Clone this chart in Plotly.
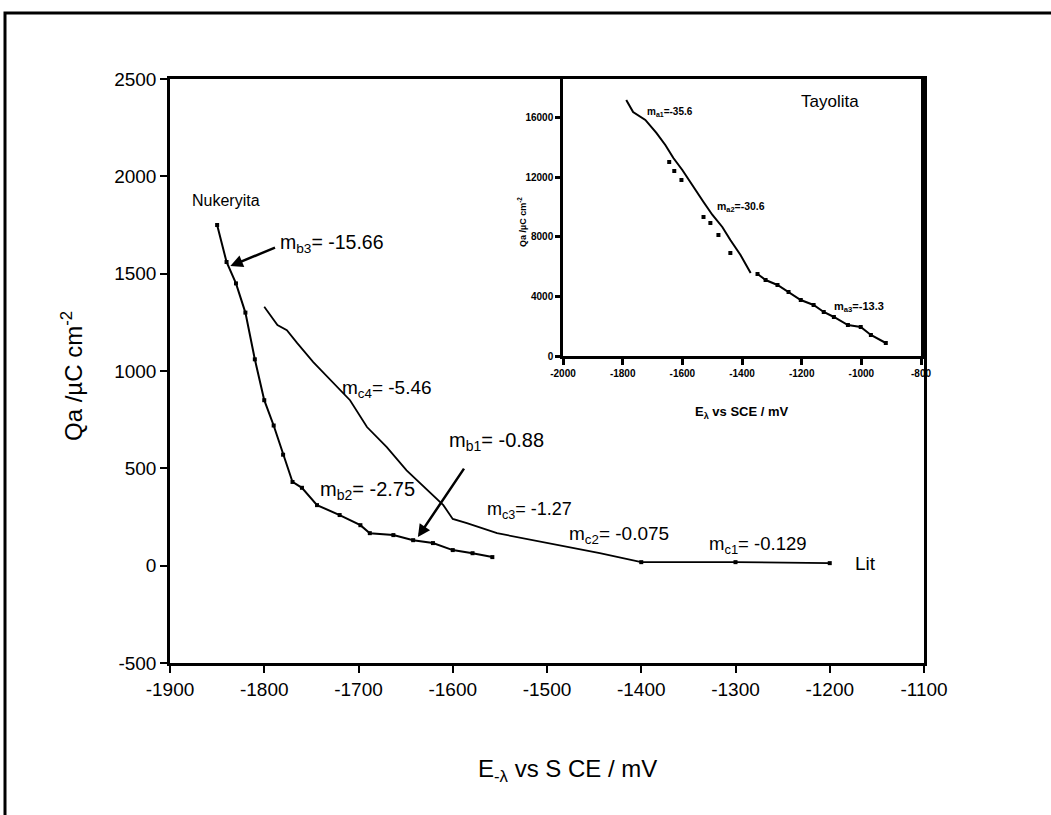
import plotly.graph_objects as go

# ---- main chart: charge vs potential ----
nuk_x = [-1850, -1840, -1830, -1820, -1810, -1800, -1790, -1780, -1770, -1760,
         -1744, -1720, -1698, -1688, -1663, -1642, -1621, -1600, -1579, -1558]
nuk_y = [1750, 1560, 1450, 1300, 1060, 850, 720, 570, 430, 400,
         311, 260, 208, 167, 157, 131, 116, 80, 64, 44]

lit_x = [-1800, -1786, -1776, -1765, -1748, -1733, -1723, -1709, -1691, -1670,
         -1649, -1624, -1610, -1600, -1585, -1553, -1532, -1479, -1444, -1400,
         -1300, -1200]
lit_y = [1330, 1236, 1210, 1143, 1046, 969, 917, 850, 712, 609,
         490, 372, 311, 240, 218, 167, 147, 96, 64, 18,
         18, 13]

main_xticks = [-1900, -1800, -1700, -1600, -1500, -1400, -1300, -1200, -1100]
main_yticks = [-500, 0, 500, 1000, 1500, 2000, 2500]

# ---- inset: Tayolita ----
tay_x1 = [-1788, -1765, -1724, -1687, -1657, -1630, -1600, -1563, -1529, -1499,
          -1466, -1439, -1405, -1371]
tay_y1 = [17210, 16400, 15866, 14992, 14185, 13311, 12504, 11361, 10353, 9479,
          8672, 7798, 6790, 5580]
tay_x2 = [-1348, -1321, -1281, -1244, -1203, -1160, -1126, -1092, -1045, -1002,
          -968, -918]
tay_y2 = [5513, 5109, 4773, 4303, 3765, 3429, 2958, 2622, 2084, 1950,
          1412, 874]
tay_px = [-1644, -1627, -1603, -1529, -1506, -1479, -1439]
tay_py = [13042, 12437, 11832, 9345, 8941, 8134, 6924]

inset_xticks = [-2000, -1800, -1600, -1400, -1200, -1000, -800]
inset_yticks = [0, 4000, 8000, 12000, 16000]

W, H = 1051, 815
FONT = "Liberation Sans, Arial, sans-serif"


def px(x):
    return x / W


def py(y):
    return 1 - y / H


fig = go.Figure()

fig.add_trace(go.Scatter(x=nuk_x, y=nuk_y, mode="lines+markers",
                         line=dict(color="black", width=2),
                         marker=dict(symbol="square", size=4, color="black"),
                         showlegend=False))
fig.add_trace(go.Scatter(x=lit_x, y=lit_y, mode="lines",
                         line=dict(color="black", width=1.8),
                         showlegend=False))
fig.add_trace(go.Scatter(x=lit_x[-3:], y=lit_y[-3:], mode="markers",
                         marker=dict(symbol="square", size=4, color="black"),
                         showlegend=False))

fig.add_trace(go.Scatter(x=tay_x1, y=tay_y1, mode="lines",
                         line=dict(color="black", width=2),
                         xaxis="x2", yaxis="y2", showlegend=False))
fig.add_trace(go.Scatter(x=tay_x2, y=tay_y2, mode="lines+markers",
                         line=dict(color="black", width=2),
                         marker=dict(symbol="square", size=4, color="black"),
                         xaxis="x2", yaxis="y2", showlegend=False))
fig.add_trace(go.Scatter(x=tay_px, y=tay_py, mode="markers",
                         marker=dict(symbol="square", size=4, color="black"),
                         xaxis="x2", yaxis="y2", showlegend=False))

axis_common = dict(showgrid=False, zeroline=False, showline=True, mirror=True,
                   linecolor="black", ticks="outside", tickcolor="black",
                   automargin=False)

fig.update_layout(
    width=W, height=H,
    margin=dict(l=0, r=0, t=0, b=0),
    paper_bgcolor="white", plot_bgcolor="rgba(0,0,0,0)",
    font=dict(family=FONT, color="black"),
    xaxis=dict(domain=[px(170), px(924)], range=[-1900, -1100],
               tickvals=main_xticks, ticktext=[str(v) for v in main_xticks],
               ticklen=7, tickwidth=2, linewidth=2.5,
               tickfont=dict(size=19), anchor="y", **axis_common),
    yaxis=dict(domain=[py(663), py(79)], range=[-500, 2500],
               tickvals=main_yticks, ticktext=[str(v) for v in main_yticks],
               ticklen=7, tickwidth=2, linewidth=2.5,
               tickfont=dict(size=19), anchor="x", **axis_common),
    xaxis2=dict(domain=[px(563), px(921)], range=[-2000, -800],
                tickvals=inset_xticks, ticktext=[f"<b>{v}</b>" for v in inset_xticks],
                ticklen=6, tickwidth=2.5, linewidth=2.5,
                tickfont=dict(size=10), anchor="y2", **axis_common),
    yaxis2=dict(domain=[py(356), py(79)], range=[0, 18620],
                tickvals=inset_yticks, ticktext=[f"<b>{v}</b>" for v in inset_yticks],
                ticklen=5, tickwidth=2.5, linewidth=2.5,
                tickfont=dict(size=10), anchor="x2", **axis_common),
)

# outer frame (left and top edges)
fig.add_shape(type="path", xref="paper", yref="paper",
              path=f"M {px(5)},0 L {px(5)},{py(13)} L 1.0,{py(13)}",
              line=dict(color="black", width=3))

ann = []
# axis titles
ann.append(dict(x=px(567), y=py(770), xref="paper", yref="paper",
                xanchor="center", yanchor="middle",
                text="E<sub>-λ</sub> vs S CE / mV", showarrow=False,
                font=dict(size=24)))
ann.append(dict(x=px(72), y=py(376), xref="paper", yref="paper",
                xanchor="center", yanchor="middle",
                text="Qa /µC cm<sup>-2</sup>", showarrow=False, textangle=-90,
                font=dict(size=24)))

# main labels
labels = [
    ("Nukeryita", -1879, 1878, 16),
    ("m<sub>b3</sub>= -15.66", -1785, 1657, 19.5),
    ("m<sub>c4</sub>= -5.46", -1720, 907, 19),
    ("m<sub>b1</sub>= -0.88", -1606, 640, 20),
    ("m<sub>b2</sub>= -2.75", -1743, 388, 20),
    ("m<sub>c3</sub>= -1.27", -1566, 285, 18),
    ("m<sub>c2</sub>= -0.075", -1479, 157, 19),
    ("m<sub>c1</sub>= -0.129", -1330, 105, 18.5),
    ("Lit", -1175, 13, 19),
]
for t, x, y, s in labels:
    ann.append(dict(x=x, y=y, xref="x", yref="y", text=t, showarrow=False,
                    xanchor="left", yanchor="middle", font=dict(size=s)))

# arrows pointing at the fitted segments
ann.append(dict(x=-1836, y=1539, ax=-1787, ay=1637, xref="x", yref="y",
                axref="x", ayref="y", text="", showarrow=True, arrowhead=2,
                arrowsize=1, arrowwidth=2.5, arrowcolor="black"))
ann.append(dict(x=-1637, y=147, ax=-1587, ay=506, xref="x", yref="y",
                axref="x", ayref="y", text="", showarrow=True, arrowhead=2,
                arrowsize=1, arrowwidth=2.5, arrowcolor="black"))

# inset labels
ann.append(dict(x=px(830), y=py(102), xref="paper", yref="paper",
                xanchor="center", yanchor="middle",
                text="Tayolita", showarrow=False, font=dict(size=17)))
ann.append(dict(x=px(742), y=py(413), xref="paper", yref="paper",
                xanchor="center", yanchor="middle",
                text="<b>E<sub>λ</sub> vs SCE / mV</b>", showarrow=False,
                font=dict(size=13)))
ann.append(dict(x=px(522), y=py(222), xref="paper", yref="paper",
                xanchor="center", yanchor="middle",
                text="<b>Qa /µC cm<sup>-2</sup></b>", showarrow=False,
                textangle=-90, font=dict(size=9)))
inset_labels = [
    ("m<sub>a1</sub>=-35.6", px(645), py(112), 10),
    ("m<sub>a2</sub>=-30.6", px(715), py(207), 10.5),
    ("m<sub>a3</sub>=-13.3", px(832), py(307), 11),
]
for t, x, y, s in inset_labels:
    ann.append(dict(x=x, y=y, xref="paper", yref="paper", text=f"<b>{t}</b>",
                    showarrow=False, xanchor="left", yanchor="middle",
                    font=dict(size=s)))

fig.update_layout(annotations=ann)

fig.write_html("out.html")
